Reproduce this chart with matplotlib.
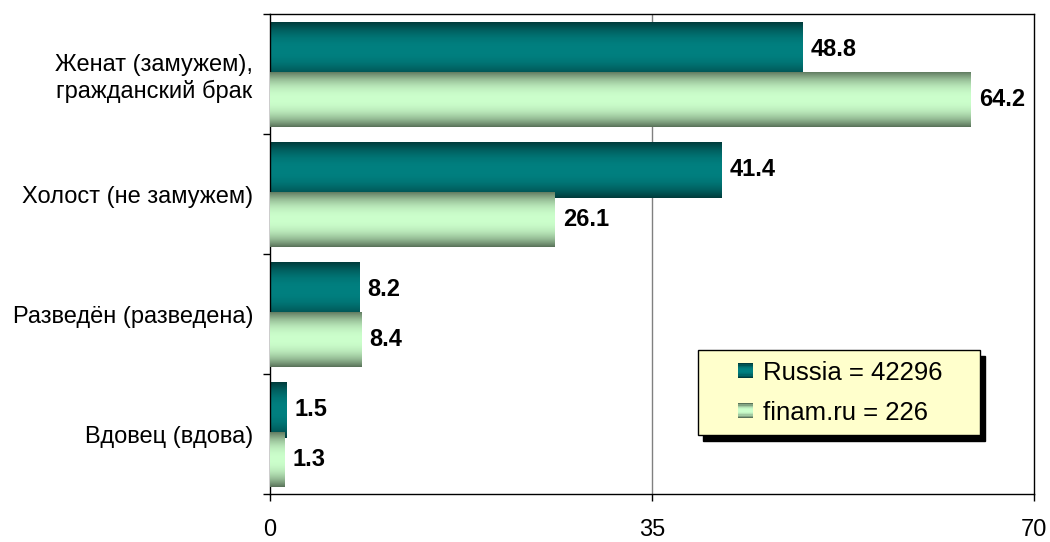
import numpy as np
import matplotlib
matplotlib.use('agg')
import matplotlib.pyplot as plt
from matplotlib.colors import to_rgb
from matplotlib.legend_handler import HandlerBase
from matplotlib.patches import Rectangle

categories = ['Женат (замужем),\nгражданский брак', 'Холост (не замужем)',
              'Разведён (разведена)', 'Вдовец (вдова)']
russia = [48.8, 41.4, 8.2, 1.5]
finam = [64.2, 26.1, 8.4, 1.3]
series_names = ['Russia = 42296', 'finam.ru = 226']
xticks = [0, 35, 70]

# edge / centre colours of the vertical gradient in each bar
russia_grad = ('#003c3c', '#008080')
finam_grad = ('#5a735a', '#ccffcc')

plt.rcParams['font.family'] = ['Liberation Sans', 'DejaVu Sans']


def grad_colors(edge, centre, n=64):
  e = np.array(to_rgb(edge))
  c = np.array(to_rgb(centre))
  t = np.linspace(0, 1, n)
  w = 1 - np.abs(2 * t - 1) ** 2.2
  return e + (c - e) * w[:, None]


def fill_gradient(ax, bars, edge, centre):
  cols = grad_colors(edge, centre)
  img = cols[:, None, :]
  for rect in bars:
    x0, y0 = rect.get_x(), rect.get_y()
    x1, y1 = x0 + rect.get_width(), y0 + rect.get_height()
    im = ax.imshow(img, extent=(x0, x1, y1, y0), aspect='auto',
                   interpolation='bilinear', zorder=rect.get_zorder())
    im.set_clip_path(rect)


class GradHandler(HandlerBase):
  def __init__(self, edge, centre):
    super().__init__()
    self.cols = grad_colors(edge, centre, 12)

  def create_artists(self, legend, orig_handle, xdescent, ydescent, width, height, fontsize, trans):
    size = 15 * 72 / legend.figure.dpi
    x = width - size - xdescent
    y0 = -ydescent + (height - size) / 2
    n = len(self.cols)
    arts = []
    for i, c in enumerate(self.cols):
      arts.append(Rectangle((x, y0 + size * (n - 1 - i) / n), size, size / n + 0.01,
                            facecolor=c, edgecolor='none', transform=trans))
    return arts


fig = plt.figure(figsize=(10.5, 5.42), dpi=100)
ax = fig.add_axes([270 / 1050, 48 / 542, 764 / 1050, 480 / 542])

y = np.arange(len(categories))
h = 0.46
b1 = ax.barh(y - 0.2, russia, height=h, facecolor='none', edgecolor='none', zorder=2)
b2 = ax.barh(y + 0.21, finam, height=h, facecolor='none', edgecolor='none', zorder=3)
fill_gradient(ax, b1, *russia_grad)
fill_gradient(ax, b2, *finam_grad)

for bars, vals in ((b1, russia), (b2, finam)):
  for rect, v in zip(bars, vals):
    ax.annotate(f'{v:.1f}', (rect.get_width(), rect.get_y() + rect.get_height() / 2),
                xytext=(8, 0), textcoords='offset pixels', va='center', ha='left',
                fontsize=17, fontweight='bold', zorder=6)

ax.set_xlim(0, 70)
ax.set_ylim(3.5, -0.5)
ax.set_xticks(xticks)
ax.set_xticklabels([str(t) for t in xticks], fontsize=17)
ax.set_yticks(y)
ax.set_yticklabels(categories, fontsize=17, multialignment='center')
ax.set_yticks(np.arange(-0.5, len(categories)), minor=True)
ax.tick_params(axis='y', which='major', length=0, pad=12)
ax.tick_params(axis='y', which='minor', length=5, direction='out', width=1)
ax.tick_params(axis='x', length=5, direction='out', width=1, pad=13)
ax.axvline(35, color='#808080', lw=1, zorder=1)
for s in ax.spines.values():
  s.set_linewidth(1)
  s.set_color('black')

handles = [Rectangle((0, 0), 1, 1), Rectangle((0, 1), 1, 1)]
leg = ax.legend(handles, series_names, loc='lower left',
                bbox_to_anchor=(0.56, 0.123, 0.369, 0.177), mode='expand',
                handler_map={handles[0]: GradHandler(*russia_grad), handles[1]: GradHandler(*finam_grad)},
                fontsize=18.5, fancybox=False, framealpha=1, facecolor='#ffffcc', edgecolor='black',
                borderpad=0.4, handlelength=1.75, handleheight=0.7, handletextpad=0.4,
                labelspacing=0.62, borderaxespad=0,
                shadow={'ox': 4, 'oy': -4, 'facecolor': 'black', 'edgecolor': 'black', 'alpha': 1})
leg.set_zorder(7)

plt.savefig('out.png', dpi=100)
plt.close()
